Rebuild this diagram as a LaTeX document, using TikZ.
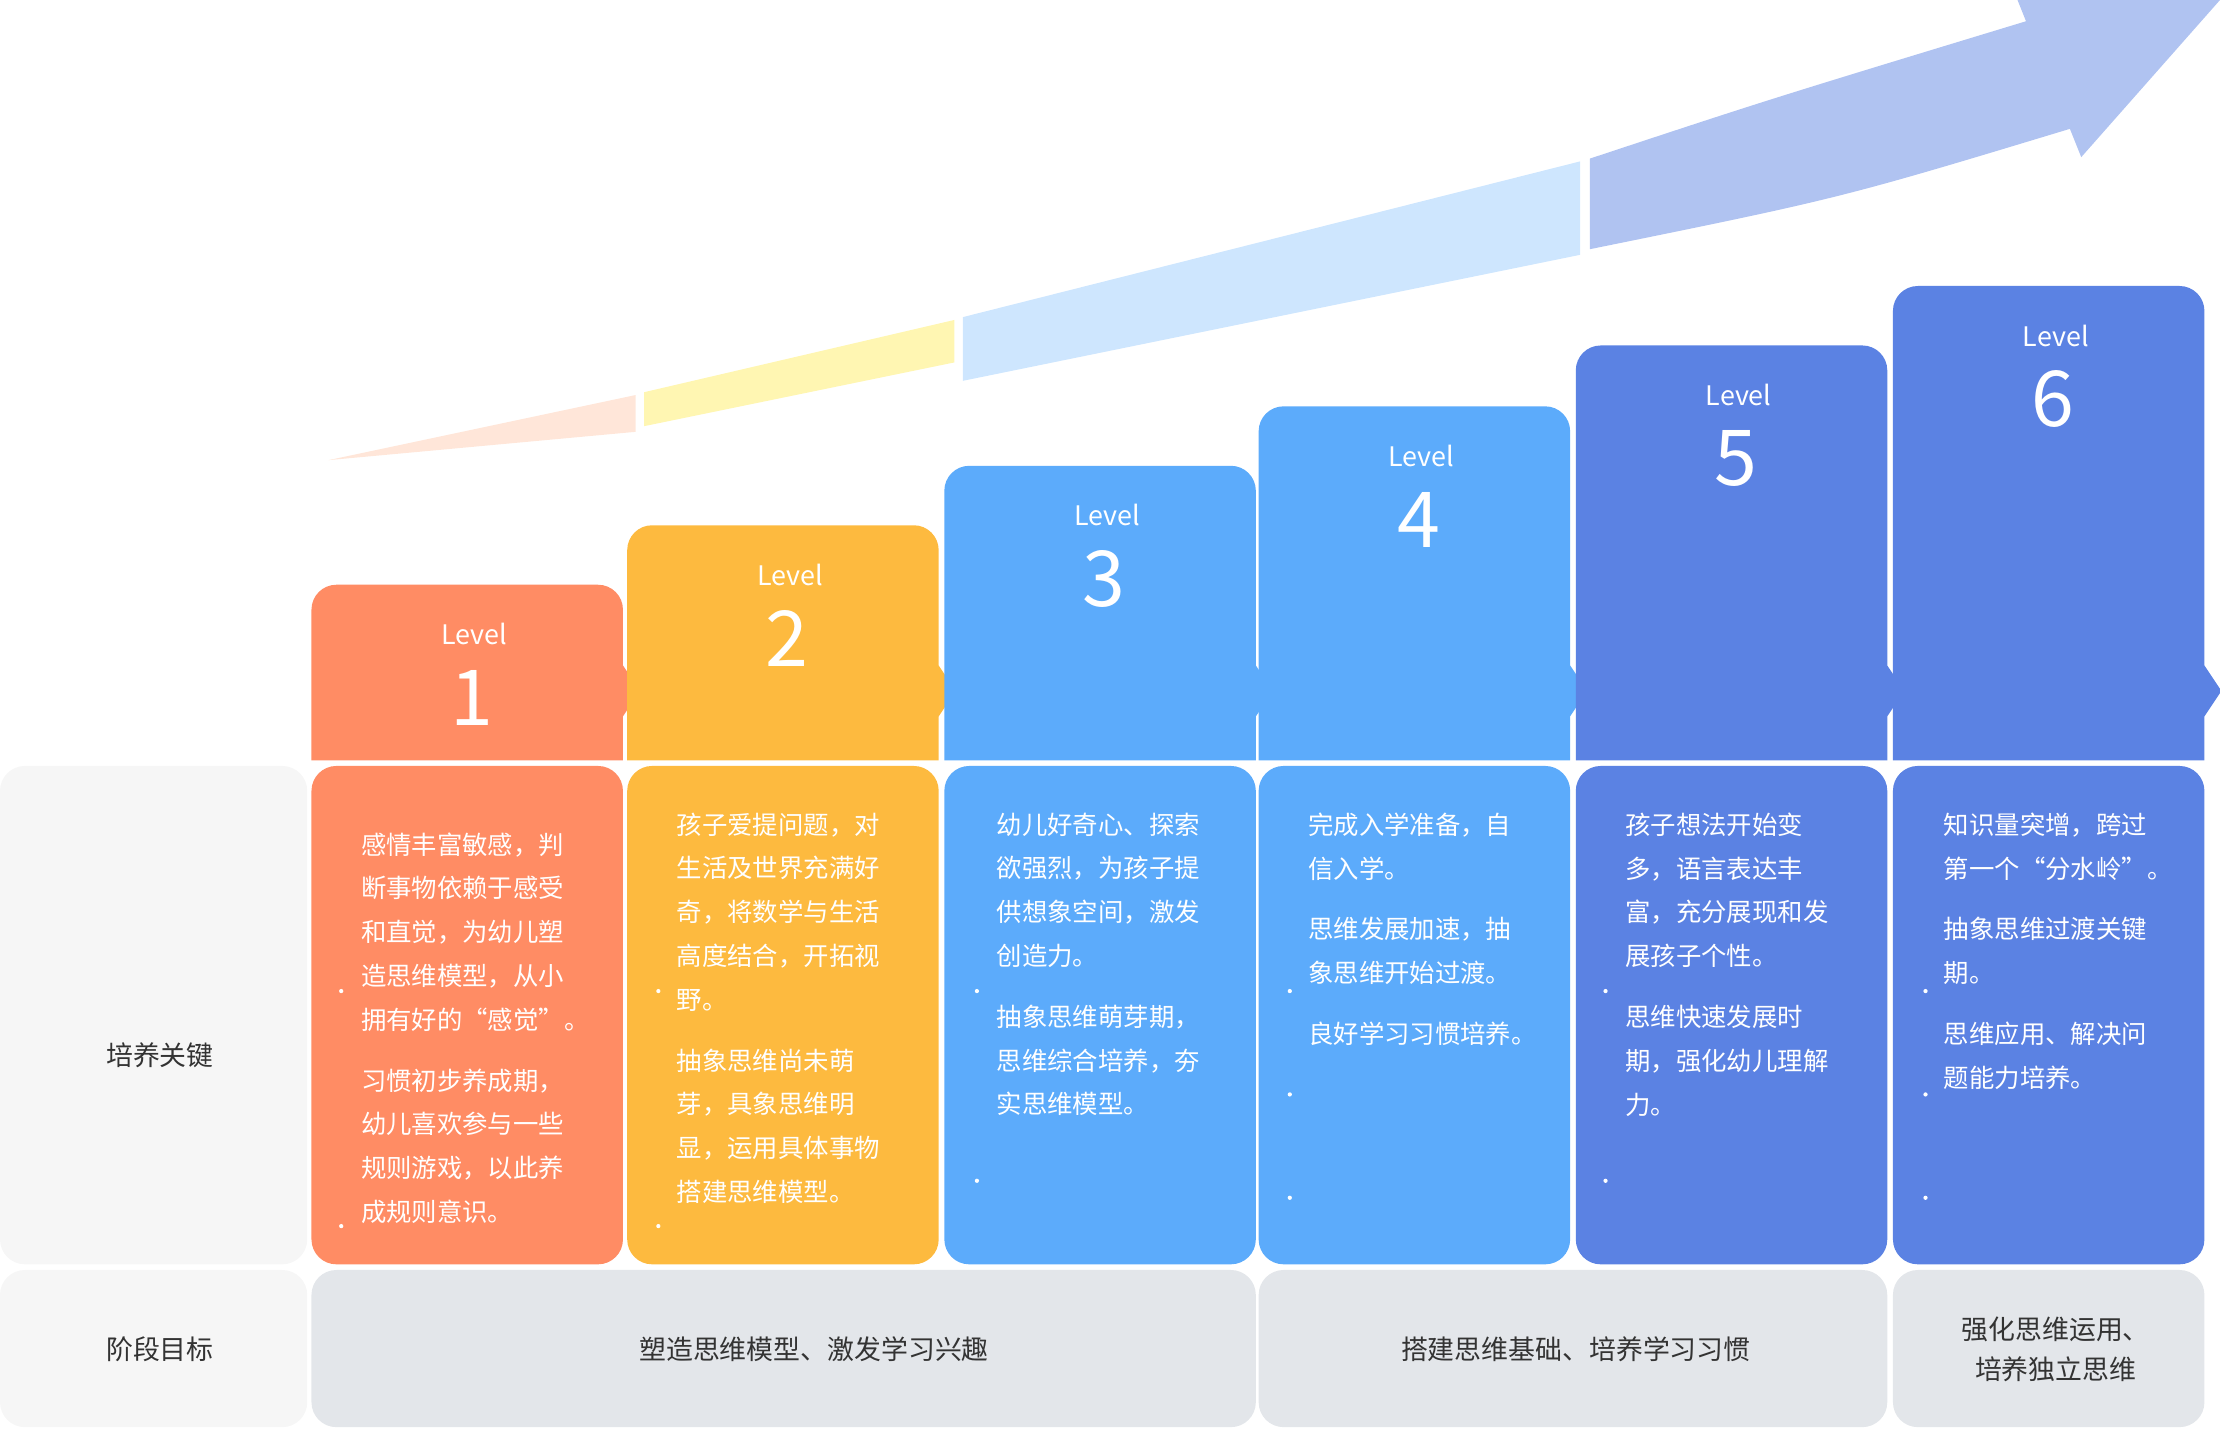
\documentclass[tikz,border=0pt]{standalone}
\usepackage{fontspec}
\setmainfont{Noto Sans CJK SC}
\usetikzlibrary{positioning}
\definecolor{lvA}{RGB}{255,140,100}
\definecolor{lvB}{RGB}{253,186,63}
\definecolor{lvC}{RGB}{92,171,251}
\definecolor{lvD}{RGB}{91,130,227}
\definecolor{sideBg}{RGB}{246,246,246}
\definecolor{goalBg}{RGB}{227,230,234}
\definecolor{txt}{RGB}{51,51,51}
\begin{document}
\begin{tikzpicture}[x=0.01cm, y=-0.01cm,
    every node/.style={inner sep=0pt, outer sep=0pt},
    body/.style={anchor=north west, align=left, text=white, font=\fontsize{5.1pt}{8.8pt}\selectfont},
    lab/.style={text=txt, font=\fontsize{5.4pt}{7.9pt}\selectfont, align=center},
    dot/.style={fill=white, draw=none}]
    \useasboundingbox (0,0) rectangle (1568,1012);

    % Growth arrow
    \fill[red!30!orange!15] (232,325) -- (449,279) -- (449,305) -- cycle;
    \fill[orange!25!yellow!30] (455,277) -- (674,226) -- (674,256) -- (455,301) -- cycle;
    \fill[lvC!30] (680,224) -- (1116,114) -- (1116,180) -- (680,269) -- cycle;
    \fill[lvD!48] (1123,112) .. controls (1250,70) .. (1431,15) -- (1425,0) -- (1568,0)
        -- (1470,111) -- (1462,91) .. controls (1300,140) .. (1123,176) -- cycle;

    % Side column
    \fill[sideBg, rounded corners=5] (0,541) rectangle (217,893);
    \fill[sideBg, rounded corners=5] (0,897) rectangle (217,1008);
    \node[lab] (keyLab) at (113,745) {培养关键};
    \node[lab] (goalLab) at (113,953) {阶段目标};

    % Levels
    \foreach \x/\t/\c/\n in {220/413/lvA/1, 443/371/lvB/2, 667/329/lvC/3,
                             889/287/lvC/4, 1113/244/lvD/5, 1337/202/lvD/6} {
        \fill[\c, rounded corners=5] (\x,537) -- (\x,\t) -- (\x+220,\t)
            [sharp corners] -- (\x+220,470) -- (\x+232,488) -- (\x+220,506) -- (\x+220,537) -- cycle;
        \node[text=white, font=\fontsize{5.4pt}{6pt}\selectfont] (lev\n) at (\x+115,\t+35) {Level};
        \node[text=white, font=\fontsize{15.5pt}{16pt}\selectfont] (num\n) at (\x+113,\t+80) {\n};
        \fill[\c, rounded corners=5] (\x,541) rectangle (\x+220,893);
    }

    % Texts
    \node[body] (txtA) at (255,588) {感情丰富敏感，判\\断事物依赖于感受\\和直觉，为幼儿塑\\造思维模型，从小\\拥有好的“感觉”。\\[3.4pt]
        习惯初步养成期，\\幼儿喜欢参与一些\\规则游戏，以此养\\成规则意识。};
    \node[body] (txtB) at (478,574) {孩子爱提问题，对\\生活及世界充满好\\奇，将数学与生活\\高度结合，开拓视\\野。\\[3.4pt]
        抽象思维尚未萌\\芽，具象思维明\\显，运用具体事物\\搭建思维模型。};
    \node[body] (txtC) at (704,574) {幼儿好奇心、探索\\欲强烈，为孩子提\\供想象空间，激发\\创造力。\\[3.4pt]
        抽象思维萌芽期，\\思维综合培养，夯\\实思维模型。};
    \node[body] (txtD) at (924,574) {完成入学准备，自\\信入学。\\[3.4pt]
        思维发展加速，抽\\象思维开始过渡。\\[3.4pt]良好学习习惯培养。};
    \node[body] (txtE) at (1148,574) {孩子想法开始变\\多，语言表达丰\\富，充分展现和发\\展孩子个性。\\[3.4pt]
        思维快速发展时\\期，强化幼儿理解\\力。};
    \node[body] (txtF) at (1373,574) {知识量突增，跨过\\第一个“分水岭”。\\[3.4pt]
        抽象思维过渡关键\\期。\\[3.4pt]思维应用、解决问\\题能力培养。};

    % Dots
    \foreach \px/\py in {241/700, 241/866, 465/700, 465/866, 690/700, 690/834,
                         911/700, 911/773, 911/846, 1134/700, 1134/834,
                         1360/700, 1360/773, 1360/846}
        \fill[dot] (\px,\py) circle (1.5);

    % Goals
    \fill[goalBg, rounded corners=5] (220,897) rectangle (887,1008);
    \fill[goalBg, rounded corners=5] (889,897) rectangle (1333,1008);
    \fill[goalBg, rounded corners=5] (1337,897) rectangle (1557,1008);
    \node[lab] (goalA) at (575,953) {塑造思维模型、激发学习兴趣};
    \node[lab] (goalB) at (1113,953) {搭建思维基础、培养学习习惯};
    \node[lab] (goalC) at (1452,953) {强化思维运用、\\培养独立思维};
\end{tikzpicture}
\end{document}
